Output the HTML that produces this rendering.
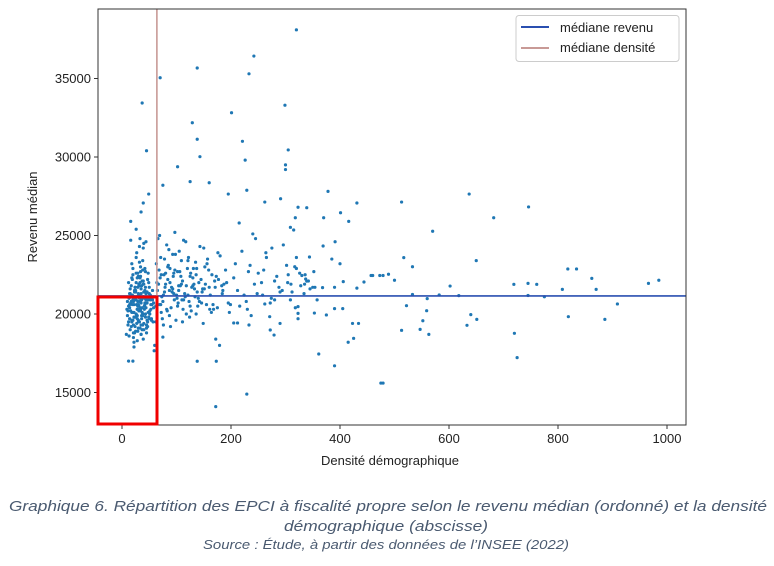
<!DOCTYPE html>
<html><head><meta charset="utf-8"><style>
html,body{margin:0;padding:0;background:#fff;}
svg{display:block;font-family:"Liberation Sans",sans-serif;}
</style></head><body>
<svg id="chart" width="774" height="566" viewBox="0 0 774 566" xmlns="http://www.w3.org/2000/svg">
<rect x="0" y="0" width="774" height="566" fill="#fff"/>
<g id="ticks"></g>
<g id="points"></g>
<g id="lines"></g>
<rect x="98" y="9" width="588" height="416" fill="none" stroke="#333" stroke-width="1"/>
<g>
<rect x="516" y="15.5" width="163" height="46" rx="3" fill="#fff" stroke="#ccc"/>
<line x1="521" y1="27" x2="549" y2="27" stroke="#2a4fb0" stroke-width="2"/>
<text x="560" y="32" font-size="13" fill="#222">médiane revenu</text>
<line x1="521" y1="48" x2="549" y2="48" stroke="#c89a96" stroke-width="2"/>
<text x="560" y="52" font-size="13" fill="#222">médiane densité</text>
</g>
<text transform="translate(37,217) rotate(-90)" text-anchor="middle" font-size="13" fill="#222">Revenu médian</text>
<text x="390" y="465" text-anchor="middle" font-size="13" fill="#222">Densité démographique</text>
<rect x="98" y="297" width="59" height="127" fill="none" stroke="#f00000" stroke-width="3"/>
<text x="388" y="511" text-anchor="middle" font-size="15" font-style="italic" fill="#4a5a70" textLength="758" lengthAdjust="spacingAndGlyphs">Graphique 6. Répartition des EPCI à fiscalité propre selon le revenu médian (ordonné) et la densité</text>
<text x="386" y="531" text-anchor="middle" font-size="15" font-style="italic" fill="#4a5a70" textLength="204" lengthAdjust="spacingAndGlyphs">démographique (abscisse)</text>
<text x="386" y="549" text-anchor="middle" font-size="13" font-style="italic" fill="#4a5a70" textLength="366" lengthAdjust="spacingAndGlyphs">Source : Étude, à partir des données de l’INSEE (2022)</text>
</svg>
<script>
const xTicks=[0,200,400,600,800,1000];
const yTicks=[15000,20000,25000,30000,35000];
const medianRevenue=21150;
const medianDensity=64;
const densityA=[12,18,22,25,28,30,33,35,38,40,15,20,24,27,31,34,37,42,45,48,10,14,19,23,26,29,32,36,39,43,16,21,25,28,30,33,36,41,46,52,11,17,22,26,29,31,35,38,44,50,13,19,24,27,30,34,37,40,47,55,9,15,20,23,28,32,35,39,42,49,14,18,21,26,29,33,38,43,51,57,12,17,22,25,31,34,36,41,45,53,20,24,27,30,32,37,40,44,48,58,8,16,23,28,35,39,46,54,60,62,18,26,33,42,50,56,22,31,38,44];
const revenueA=[20500,20100,19800,21000,20300,19600,20800,21300,20000,19400,21600,20900,19200,20600,21900,20200,19000,20700,21400,20100,19900,20400,21200,18800,20000,21700,19500,20900,22100,19800,20700,18500,21500,20300,22400,19100,21000,20500,19600,21200,19300,21800,20600,22600,18900,20200,21600,22800,20400,19700,18600,22200,20900,19400,21300,23000,20100,21900,19200,20600,20300,19000,22900,21100,19700,23300,20700,18400,21500,22000,21300,19600,20100,23600,20800,22300,19300,21700,20000,19500,22000,20800,18200,21400,20500,22700,19900,21000,19100,20300,22500,21000,23900,19500,24300,22100,24500,21300,22600,20700,18700,24700,19800,18300,18700,24200,21400,19700,18000,20500,23200,25400,24800,22900,21700,20900,17900,21800,23400,24600];
const densityD=[11,14,17,19,21,23,26,28,31,33,36,39,41,44,47,50,53,13,16,18,21,24,27,29,32,35,37,40,43,46,49,52,56,10,15,20,22,25,27,30,34,36,38,42,45,48,51,54,58,12,14,18,23,26,29,32,34,39,43,47,17,21,25,30,35,40,45,24,28,33];
const revenueD=[20200,19700,21100,20600,19300,21400,20900,19900,21200,20400,19700,21100,20300,20900,19500,21300,20600,21000,20200,19500,20800,21700,19900,20500,21000,19300,20400,21400,20000,20700,19800,20900,21500,20800,21300,19600,20100,19800,21100,20600,20300,21800,19900,20600,19300,20900,20200,19600,20400,19500,20600,22300,21500,22000,22600,21800,22400,21900,22700,22200,19200,18800,18900,19100,18700,19000,18800,21700,22300,22000];
const densityB=[65,70,75,80,85,90,95,100,105,110,68,73,78,83,88,93,98,103,108,115,120,125,130,135,140,145,150,155,160,165,72,82,92,102,112,122,132,142,152,162,170,175,180,185,190,195,66,77,87,97,107,117,127,137,147,157,167,177,187,197,63,71,79,86,94,101,109,118,126,134,143,151,159,168,176,184,192,199,74,84,96,104,113,121,131,139,148,156,164,173,62,69,76,89,99,111,124,136,149,161];
const revenueB=[21500,22300,20800,21900,23100,20400,22600,21200,24000,20900,22800,21100,23500,20200,22000,21600,23800,20700,22400,21300,22900,20500,21800,23300,21000,22200,24200,20600,21700,22500,20100,24400,21400,22700,20300,23600,21900,20800,23000,21200,22100,20400,23700,21500,22800,20700,24800,22500,19900,25200,21800,24600,20200,22900,21400,23500,20600,22200,21900,20100,23200,20600,21700,24100,22400,21000,23400,20000,22600,21100,24300,21600,22800,20300,23900,21300,22000,20600,19700,23000,20900,21800,24700,21200,22900,20500,21600,23200,20100,22400,19500,25000,19300,19200,19600,19500,19800,20000,19400,20300];
const densityE=[67,72,78,84,91,97,104,111,118,125,133,141,69,76,82,88,95,102,109,116,123,130,138,146,64,71,80,87,93,106,113,121,128,136,153,171,183];
const revenueE=[21900,22500,21400,22200,21700,22800,21500,22100,21800,22400,21600,22000,20600,21200,20300,22900,21300,20500,21900,21100,20800,22300,21400,20700,22000,23600,22600,21500,23800,22700,20900,23400,21700,22500,21900,21700,21800];
const densityC=[205,212,220,228,235,243,250,258,265,272,280,288,296,304,312,320,328,336,345,352,208,216,224,232,240,248,256,264,274,284,294,302,310,318,326,334,342,350,358,215,230,245,260,275,290,305,320,335];
const revenueC=[22300,21500,24000,20800,23100,21900,22600,21200,23600,20700,22100,21700,24400,22000,21400,22900,21800,22500,21600,22700,23200,20500,21200,22700,25100,21300,22000,23900,21000,22400,21500,23100,21900,20400,22600,21300,22100,21700,20900,25800,20300,24800,22800,24200,21400,22500,23600,21900];
const densityOut=[320,242,233,138,70,37,201,299,129,138,45,221,305,226,143,102,300,300,75,125,160,49,195,229,378,431,262,291,39,35,323,339,370,401,416,16,318,309,315,391,369,344,385,400,317,330,337,457,460,479,444,431,406,390,354,368,339,390,375,353,405,423,434,415,425,361,390,475,229,172,138,173,12,20,172,179,59,75,290,279,272,271,237,233,205,212,262,280,309,323,323,323];
const revenueOut=[38100,36430,35300,35670,35050,33440,32820,33300,32180,31130,30400,31000,30450,29800,30020,29380,29500,29200,28200,28430,28360,27640,27640,27880,27810,27070,27130,27340,27070,26500,26800,26770,26130,26450,25900,25900,26130,25520,25350,24600,24330,23630,23500,23200,23010,22450,22230,22450,22450,22450,22040,21650,22060,21700,21700,21680,22090,20340,19940,20060,20340,19400,19400,18200,18450,17450,16700,15600,14900,14100,16990,16990,17000,17000,18400,18000,17660,18530,19400,18660,18980,19830,19900,19300,19430,19430,20640,20900,20900,20470,20040,19700];
const densityR=[513,637,746,682,570,517,533,650,489,500,473,602,818,834,862,870,808,719,745,761,966,985,533,560,582,618,745,775,522,559,552,513,547,563,640,651,633,819,886,909,720,725,479];
const revenueR=[27130,27640,26820,26130,25270,23590,23010,23400,22530,22150,22450,21780,22870,22870,22270,21570,21570,21890,21950,21890,21950,22150,21240,20980,21210,21170,21180,21100,20530,20210,19570,18960,19020,18700,19960,19660,19280,19830,19660,20640,18770,17220,15600];

const NS="http://www.w3.org/2000/svg";
function xS(v){return 122+v*0.545;}
function yS(v){return 314-(v-20000)*0.0157;}
function mk(tag,attrs,parent){const e=document.createElementNS(NS,tag);for(const k in attrs)e.setAttribute(k,attrs[k]);parent.appendChild(e);return e;}

const tg=document.getElementById('ticks');
xTicks.forEach(t=>{
  const l=mk('line',{x1:xS(t),x2:xS(t),y1:425,y2:429,stroke:'#333'},tg);
  
  
  const tx=mk('text',{x:xS(t),y:443,'text-anchor':'middle','font-size':13,fill:'#222'},tg);
  tx.textContent=t;
  
  
});
yTicks.forEach(t=>{
  const l=mk('line',{x1:94,x2:98,y1:yS(t),y2:yS(t),stroke:'#333'},tg);
  
  
  const tx=mk('text',{x:91,y:yS(t)+4.5,'text-anchor':'end','font-size':13,fill:'#222'},tg);
  tx.textContent=t;
  
  
});

const pg=document.getElementById('points');
[[densityA,revenueA],[densityD,revenueD],[densityB,revenueB],[densityE,revenueE],[densityC,revenueC],[densityOut,revenueOut],[densityR,revenueR]].forEach(([dx,ry])=>{
  dx.forEach((d,i)=>{
    const c=mk('circle',{cx:xS(d),cy:yS(ry[i]),r:1.6,fill:'#1f77b4'},pg);
    
    
  });
});

const lg=document.getElementById('lines');
const h=mk('line',{x1:98,x2:686,y1:yS(medianRevenue),y2:yS(medianRevenue),stroke:'#2a4fb0','stroke-width':1.6},lg);


const v=mk('line',{x1:xS(medianDensity),x2:xS(medianDensity),y1:9,y2:425,stroke:'#c89a96','stroke-width':1.6},lg);


</script>
</body></html>
